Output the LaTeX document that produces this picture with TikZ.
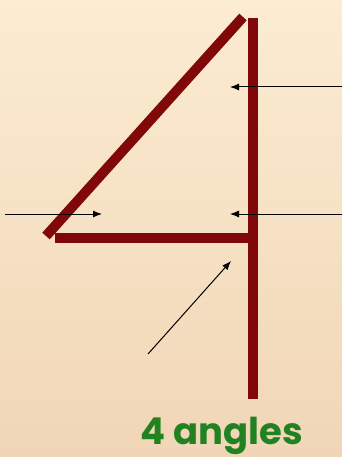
\documentclass[tikz,border=0pt]{standalone}
\usepackage{fontspec}
\newfontfamily\labelfont{Poppins}
\usetikzlibrary{arrows.meta}
\definecolor{bar}{RGB}{128,8,8}
\definecolor{bgtop}{RGB}{252,236,210}
\definecolor{bgbot}{RGB}{240,214,182}
\definecolor{lbl}{RGB}{34,130,34}
\tikzset{
  barline/.style={draw=bar, line width=10pt},
  pointer/.style={draw=black, line width=1pt, -{Latex[length=9pt,width=7pt]}},
}
\begin{document}
\begin{tikzpicture}[x=1pt,y=-1pt]
\useasboundingbox (0,0) rectangle (342,457);
\shade[top color=bgtop, bottom color=bgbot] (0,0) rectangle (342,457);
% shape coordinates
\coordinate (vtop) at (253,18);
\coordinate (vbot) at (253,399);
\coordinate (dtop) at (243,17);
\coordinate (dbot) at (46,236);
\coordinate (hl) at (55,238);
\coordinate (hr) at (253,238);
\draw[barline] (vtop) -- (vbot);
\draw[barline] (dtop) -- (dbot);
\draw[barline] (hl) -- (hr);
% arrows
\coordinate (a1s) at (342,87);  \coordinate (a1e) at (230,87);
\coordinate (a2s) at (5,214);   \coordinate (a2e) at (102,214);
\coordinate (a3s) at (342,214); \coordinate (a3e) at (230,214);
\coordinate (a4s) at (148,354); \coordinate (a4e) at (231,261);
\draw[pointer] (a1s) -- (a1e);
\draw[pointer] (a2s) -- (a2e);
\draw[pointer] (a3s) -- (a3e);
\draw[pointer] (a4s) -- (a4e);
\node[anchor=base, text=lbl, font=\labelfont\bfseries\fontsize{37}{40}\selectfont, inner sep=0pt] (label) at (222,444) {4 angles};
\end{tikzpicture}
\end{document}
